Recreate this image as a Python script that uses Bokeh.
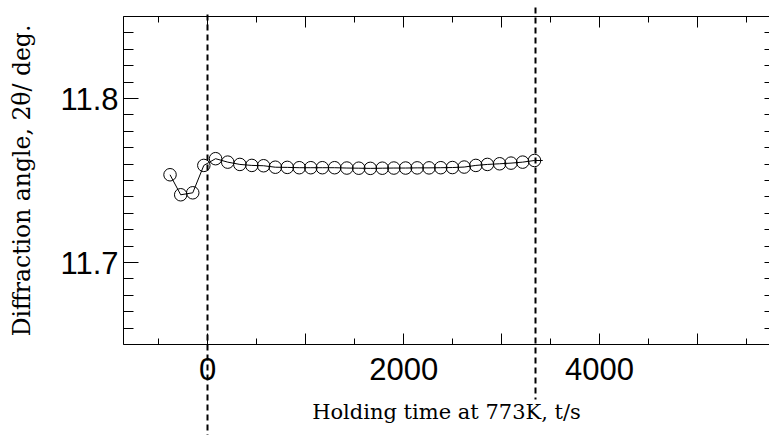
from bokeh.plotting import figure
from bokeh.models import LinearAxis, FixedTicker, Range1d
from bokeh.embed import file_html
from bokeh.resources import INLINE

# ---- data ----
time_s = [-385, -276, -153, -40,
          80, 204, 328, 450, 570, 690, 812, 934, 1052, 1170,
          1295, 1420, 1542, 1660, 1782, 1900, 2020, 2138, 2259, 2379,
          2498, 2618, 2737, 2855, 2980, 3096, 3215, 3336]
angle_deg = [11.7535, 11.7413, 11.7425, 11.7592,
             11.7633, 11.7612, 11.7598, 11.7592, 11.7590, 11.7581, 11.7580, 11.7578, 11.7578, 11.7578,
             11.7578, 11.7576, 11.7575, 11.7574, 11.7575, 11.7576, 11.7576, 11.7577, 11.7577, 11.7578,
             11.7579, 11.7582, 11.7592, 11.7598, 11.7602, 11.7606, 11.7612, 11.7622]
line_tail_time = [3420]
line_tail_angle = [11.7622]

# dashed vertical markers: time, top and bottom ends (in angle units, beyond the frame)
vline_time = [0, 3350]
vline_top = [11.851, 11.854]
vline_bottom = [11.594, 11.615]

x_labeled = [0, 2000, 4000]
x_unlabeled_major = [1000, 3000, 5000]
x_minor = [-500, 500, 1500, 2500, 3500, 4500, 5500]
y_major = [11.7, 11.8]
y_minor = [11.66, 11.67, 11.68, 11.69, 11.71, 11.72, 11.73, 11.74, 11.75, 11.76,
           11.77, 11.78, 11.79, 11.81, 11.82, 11.83, 11.84]

x_label = "Holding time at 773K, t/s"
y_label = "Diffraction angle, 2\u03b8/ deg."

TICK_FONT = "Liberation Sans"
LABEL_FONT = "DejaVu Serif"

Y0, Y1 = 11.65, 11.85
FRAME_TOP, FRAME_BOTTOM = 16, 344

p = figure(width=769, height=435,
           x_range=Range1d(-860, 5735), y_range=Range1d(Y0, Y1),
           x_axis_location=None, y_axis_location=None,
           output_backend="svg", toolbar_location=None,
           min_border_left=123, min_border_right=0,
           min_border_top=FRAME_TOP, min_border_bottom=435 - FRAME_BOTTOM,
           outline_line_color=None,
           background_fill_color="white", border_fill_color="white")
p.xgrid.visible = False
p.ygrid.visible = False


def tick_only_axis(ticks, length_in, length_out=0, dash="solid", width=1):
    return LinearAxis(ticker=FixedTicker(ticks=[], minor_ticks=ticks),
                      major_tick_in=0, major_tick_out=0,
                      minor_tick_in=length_in, minor_tick_out=length_out,
                      major_label_standoff=0,
                      axis_line_color="black", minor_tick_line_color="black",
                      minor_tick_line_dash=dash, minor_tick_line_width=width)


# bottom: short minor ticks (label-less, nearest the frame) + labelled axis
p.add_layout(tick_only_axis(x_minor, 6), "below")
xa = LinearAxis(ticker=FixedTicker(ticks=x_labeled, minor_ticks=x_unlabeled_major),
                major_tick_in=11, major_tick_out=0,
                minor_tick_in=11, minor_tick_out=0,
                axis_line_color="black",
                major_tick_line_color="black", minor_tick_line_color="black",
                major_label_text_font=TICK_FONT, major_label_text_font_size="31px",
                major_label_text_color="black", major_label_standoff=13,
                axis_label=x_label, axis_label_text_font=LABEL_FONT,
                axis_label_text_font_size="21px", axis_label_text_font_style="normal",
                axis_label_text_color="black", axis_label_standoff=17)
p.add_layout(xa, "below")

# top: tick marks only
p.add_layout(tick_only_axis(x_unlabeled_major + x_labeled, 11), "above")
p.add_layout(tick_only_axis(x_minor, 6), "above")

# dashed vertical markers: drawn as long tick marks of top axes so they may
# run past the plot frame like in the reference
px_per_unit = (FRAME_BOTTOM - FRAME_TOP) / (Y1 - Y0)
for t, top_v, bot_v in zip(vline_time, vline_top, vline_bottom):
    ax = tick_only_axis([t], length_in=round((Y1 - bot_v) * px_per_unit),
                        length_out=round((top_v - Y1) * px_per_unit),
                        dash="6 4", width=2)
    ax.axis_line_color = None
    p.add_layout(ax, "above")

# left: labelled
ya = LinearAxis(ticker=FixedTicker(ticks=y_major, minor_ticks=y_minor),
                major_tick_in=15, major_tick_out=0,
                minor_tick_in=10, minor_tick_out=0,
                axis_line_color="black",
                major_tick_line_color="black", minor_tick_line_color="black",
                major_label_text_font=TICK_FONT, major_label_text_font_size="31px",
                major_label_text_color="black", major_label_standoff=5,
                axis_label=y_label, axis_label_text_font=LABEL_FONT,
                axis_label_text_font_size="23.5px", axis_label_text_font_style="normal",
                axis_label_text_color="black", axis_label_standoff=21)
p.add_layout(ya, "left")

# right: tick stubs only
r = tick_only_axis(y_major + y_minor, 5)
r.axis_line_color = None
p.add_layout(r, "right")

# data line and open circle markers
p.line(time_s + line_tail_time, angle_deg + line_tail_angle,
       line_color="black", line_width=1)
p.scatter(time_s, angle_deg, marker="circle", size=12.5,
          fill_color=None, line_color="black", line_width=1)

open("out.html", "w").write(file_html(p, INLINE))
